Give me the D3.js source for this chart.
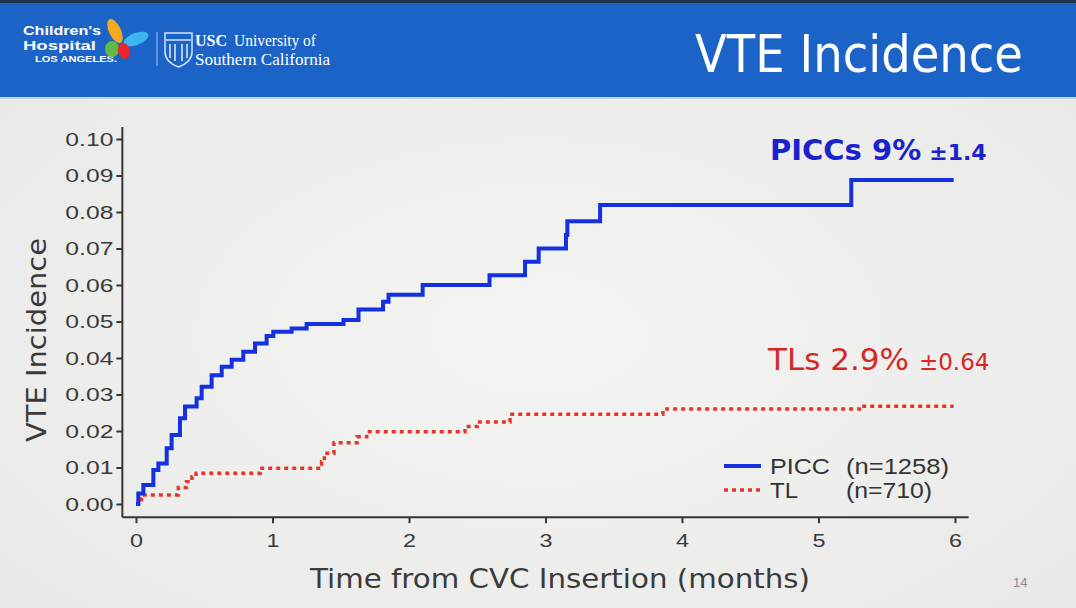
<!DOCTYPE html>
<html>
<head>
<meta charset="utf-8">
<script src="https://cdn.jsdelivr.net/npm/d3@7"></script>
<style>
  body { margin: 0; background: #efefee; }
  svg { display: block; }
</style>
</head>
<body>
<div id="chart"></div>
<script>
// cumulative incidence steps
const piccTime  = [0, 0.017, 0.054, 0.127, 0.164, 0.225, 0.261, 0.322, 0.359, 0.444, 0.481, 0.554, 0.628, 0.701, 0.786, 0.872, 0.957, 1.006, 1.14, 1.25, 1.52, 1.63, 1.81, 1.85, 2.10, 2.59, 2.85, 2.95, 3.15, 3.16, 3.40, 5.24, 5.99];
const piccValue = [0, 0.0029, 0.0052, 0.0093, 0.0111, 0.0153, 0.0189, 0.0235, 0.0267, 0.029, 0.0321, 0.0353, 0.0376, 0.0395, 0.0417, 0.044, 0.046, 0.0472, 0.0481, 0.0493, 0.0504, 0.0533, 0.0554, 0.0573, 0.0600, 0.0627, 0.0664, 0.0700, 0.0737, 0.0775, 0.0819, 0.0888, 0.0888];
const tlTime  = [0, 0.04, 0.31, 0.37, 0.41, 0.44, 0.91, 1.36, 1.38, 1.45, 1.62, 1.69, 2.41, 2.50, 2.74, 3.86, 5.30, 5.99];
const tlValue = [0, 0.0025, 0.0045, 0.0061, 0.0075, 0.0084, 0.0098, 0.0116, 0.0139, 0.0168, 0.0184, 0.0198, 0.0212, 0.0225, 0.0246, 0.026, 0.0268, 0.0268];

const xTicks = [0, 1, 2, 3, 4, 5, 6];
const yTicks = [0, 0.01, 0.02, 0.03, 0.04, 0.05, 0.06, 0.07, 0.08, 0.09, 0.10];

const seriesNames = ["PICC", "TL"];
const seriesN = ["(n=1258)", "(n=710)"];
const piccLabel = ["PICCs 9%", "±1.4"];
const tlLabel = ["TLs 2.9%", "±0.64"];

const W = 1076, H = 608;
const blue = "#1530e0", red = "#e2372a";

const svg = d3.select("#chart").append("svg")
    .attr("width", W).attr("height", H);

// slide background
const bg = svg.append("defs").append("radialGradient").attr("id", "bgGrad")
    .attr("cx", "50%").attr("cy", "55%").attr("r", "70%");
bg.append("stop").attr("offset", "0%").attr("stop-color", "#f4f4f3");
bg.append("stop").attr("offset", "100%").attr("stop-color", "#e8e8e7");
svg.append("rect").attr("width", W).attr("height", H).attr("fill", "url(#bgGrad)");

// header band
svg.append("rect").attr("x", 0).attr("y", 0).attr("width", W).attr("height", 98).attr("fill", "#1c63c7");
svg.append("rect").attr("x", 0).attr("y", 0).attr("width", W).attr("height", 3).attr("fill", "#22324a");
svg.append("rect").attr("x", 0).attr("y", 97).attr("width", W).attr("height", 2).attr("fill", "#c9d3de");

svg.append("text")
    .attr("x", 695).attr("y", 72)
    .attr("textLength", 328).attr("lengthAdjust", "spacingAndGlyphs")
    .style("font-family", "'DejaVu Sans', sans-serif")
    .style("font-size", "52px")
    .attr("fill", "#ffffff")
    .text("VTE Incidence");

// logos (rough)
let logo = svg.append("g");
const logoFont = "'Liberation Sans', Arial, sans-serif";
logo.append("text").attr("x", 23).attr("y", 35)
    .attr("textLength", 78).attr("lengthAdjust", "spacingAndGlyphs")
    .style("font-family", logoFont).style("font-weight", "bold")
    .style("font-size", "13px").attr("fill", "#fff").text("Children's");
logo.append("text").attr("x", 23).attr("y", 50)
    .attr("textLength", 73).attr("lengthAdjust", "spacingAndGlyphs")
    .style("font-family", logoFont).style("font-weight", "bold")
    .style("font-size", "13px").attr("fill", "#fff").text("Hospital");
logo.append("text").attr("x", 35).attr("y", 62)
    .attr("textLength", 82).attr("lengthAdjust", "spacingAndGlyphs")
    .style("font-family", logoFont).style("font-weight", "bold")
    .style("font-size", "8.5px").attr("fill", "#fff").text("LOS ANGELES.");
const wings = [
    {cx: 115, cy: 31, rx: 6, ry: 13, rot: -25, c: "#f6a821"},
    {cx: 136, cy: 39, rx: 13, ry: 6, rot: -20, c: "#3db6ef"},
    {cx: 112, cy: 49, rx: 7, ry: 8, rot: 0, c: "#5fba46"},
    {cx: 124, cy: 51, rx: 6, ry: 8, rot: -15, c: "#e7262e"}
];
logo.selectAll("ellipse").data(wings).join("ellipse")
    .attr("cx", d => d.cx).attr("cy", d => d.cy)
    .attr("rx", d => d.rx).attr("ry", d => d.ry)
    .attr("transform", d => "rotate(" + d.rot + "," + d.cx + "," + d.cy + ")")
    .attr("fill", d => d.c);
logo.append("line").attr("x1", 157).attr("x2", 157).attr("y1", 32).attr("y2", 66)
    .attr("stroke", "#9fc0ea").attr("stroke-width", 1);
logo.append("path")
    .attr("d", "M165,33 L192,33 L192,52 Q192,62 178.5,67 Q165,62 165,52 Z")
    .attr("fill", "none").attr("stroke", "#d6e4f6").attr("stroke-width", 1.5);
logo.append("path")
    .attr("d", "M170,44 L170,58 M175,44 L175,61 M182,44 L182,61 M187,44 L187,58 M166,40 L191,40")
    .attr("stroke", "#d6e4f6").attr("stroke-width", 1.6);
logo.append("text").attr("x", 195).attr("y", 46)
    .style("font-family", "'Liberation Serif', serif").style("font-size", "16px")
    .attr("fill", "#fff").style("font-weight", "bold").text("USC");
logo.append("text").attr("x", 234).attr("y", 46)
    .attr("textLength", 82).attr("lengthAdjust", "spacingAndGlyphs")
    .style("font-family", "'Liberation Serif', serif").style("font-size", "16px")
    .attr("fill", "#fff").text("University of");
logo.append("text").attr("x", 195).attr("y", 65)
    .attr("textLength", 135).attr("lengthAdjust", "spacingAndGlyphs")
    .style("font-family", "'Liberation Serif', serif").style("font-size", "16px")
    .attr("fill", "#fff").text("Southern California");

// scales
const x = d3.scaleLinear().domain([0, 6]).range([136, 955]);
const y = d3.scaleLinear().domain([0, 0.10]).range([504, 139]);

const axisColor = "#363636";
const tickFont = "'Liberation Sans', Arial, sans-serif";

// axis lines, slightly longer than the data range
svg.append("line")
    .attr("x1", x(-0.1)).attr("x2", x(6.1))
    .attr("y1", y(-0.0036)).attr("y2", y(-0.0036))
    .attr("stroke", axisColor).attr("stroke-width", 2);
svg.append("line")
    .attr("x1", x(-0.1)).attr("x2", x(-0.1))
    .attr("y1", y(-0.0036)).attr("y2", y(0.1033))
    .attr("stroke", axisColor).attr("stroke-width", 2);

let xAxis = svg.append("g")
    .attr("transform", "translate(0," + y(-0.0036) + ")")
    .call(d3.axisBottom(x).tickValues(xTicks).tickSize(6).tickPadding(10).tickFormat(d3.format("d")));
xAxis.select(".domain").remove();

let yAxis = svg.append("g")
    .attr("transform", "translate(" + x(-0.1) + ",0)")
    .call(d3.axisLeft(y).tickValues(yTicks).tickSize(6).tickPadding(3).tickFormat(d3.format(".2f")));
yAxis.select(".domain").remove();

svg.selectAll(".tick line").attr("stroke", axisColor).attr("stroke-width", 2);
svg.selectAll(".tick text")
    .style("font-family", tickFont)
    .style("font-size", "19px")
    .attr("lengthAdjust", "spacingAndGlyphs")
    .attr("fill", "#3a3a3a");
yAxis.selectAll(".tick text").attr("textLength", 48);
xAxis.selectAll(".tick text").attr("textLength", 13);

// axis titles
svg.append("text")
    .attr("x", 560).attr("y", 588)
    .attr("text-anchor", "middle")
    .attr("textLength", 500).attr("lengthAdjust", "spacingAndGlyphs")
    .style("font-family", "'DejaVu Sans', sans-serif")
    .style("font-size", "27px")
    .attr("fill", "#3a3a3a")
    .text("Time from CVC Insertion (months)");

svg.append("text")
    .attr("transform", "translate(46,340) rotate(-90)")
    .attr("text-anchor", "middle")
    .attr("textLength", 204).attr("lengthAdjust", "spacingAndGlyphs")
    .style("font-family", "'DejaVu Sans', sans-serif")
    .style("font-size", "27px")
    .attr("fill", "#3a3a3a")
    .text("VTE Incidence");

// curves
const step = d3.line()
    .x(d => x(d[0]))
    .y(d => y(d[1]))
    .curve(d3.curveStepAfter);

svg.append("path")
    .datum(d3.zip(tlTime, tlValue))
    .attr("d", step)
    .attr("fill", "none")
    .attr("stroke", red)
    .attr("stroke-width", 3.5)
    .attr("stroke-dasharray", "4,4");

svg.append("path")
    .datum(d3.zip(piccTime, piccValue))
    .attr("d", step)
    .attr("fill", "none")
    .attr("stroke", blue)
    .attr("stroke-width", 4);

// annotations
let pl = svg.append("text")
    .attr("x", 770).attr("y", 160)
    .style("font-family", "'DejaVu Sans', sans-serif")
    .style("font-weight", "bold")
    .attr("fill", "#1a22cf");
pl.append("tspan").style("font-size", "29px").text(piccLabel[0]);
pl.append("tspan").attr("dx", 8).style("font-size", "22px").text(piccLabel[1]);

let tl = svg.append("text")
    .attr("x", 768).attr("y", 370)
    .style("font-family", "'DejaVu Sans', sans-serif")
    .attr("fill", "#d5281f");
tl.append("tspan").style("font-size", "31px").text(tlLabel[0]);
tl.append("tspan").attr("dx", 10).style("font-size", "23px").text(tlLabel[1]);

// legend
const legendY = [466, 490];
const legendColor = [blue, red];
const legendDash = ["none", "4,4"];
const nameWidth = [60, 28];
const nWidth = [103, 86];
let legend = svg.append("g");
seriesNames.forEach(function(name, i) {
    legend.append("line")
        .attr("x1", 724).attr("x2", 761)
        .attr("y1", legendY[i]).attr("y2", legendY[i])
        .attr("stroke", legendColor[i])
        .attr("stroke-width", i === 0 ? 4 : 3.5)
        .attr("stroke-dasharray", legendDash[i]);
    legend.append("text")
        .attr("x", 770).attr("y", legendY[i] + 8)
        .attr("textLength", nameWidth[i]).attr("lengthAdjust", "spacingAndGlyphs")
        .style("font-family", tickFont).style("font-size", "22px")
        .attr("fill", "#333").text(name);
    legend.append("text")
        .attr("x", 846).attr("y", legendY[i] + 8)
        .attr("textLength", nWidth[i]).attr("lengthAdjust", "spacingAndGlyphs")
        .style("font-family", tickFont).style("font-size", "22px")
        .attr("fill", "#333").text(seriesN[i]);
});

// page number
svg.append("text")
    .attr("x", 1013).attr("y", 587)
    .style("font-family", tickFont).style("font-size", "13px")
    .attr("fill", "#8a8a8a").text("14");
</script>
</body>
</html>
